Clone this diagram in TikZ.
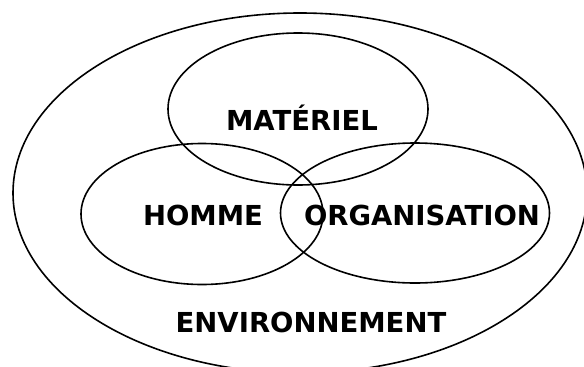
\documentclass[tikz,border=0pt]{standalone}
\usepackage{fontspec}
\setmainfont{DejaVu Sans}
\usetikzlibrary{shapes.geometric}
\begin{document}
\begin{tikzpicture}[x=1pt,y=-1pt,
  ring/.style={draw=black, line width=1.6pt, ellipse, inner sep=0pt},
  lbl/.style={font=\fontsize{27.5}{31}\selectfont\bfseries, inner sep=0pt, anchor=center}]
\useasboundingbox (0,0) rectangle (584,367);
\clip (0,0) rectangle (584,367);
\node[ring, minimum width=574pt, minimum height=360pt] (env) at (300,193) {};
\node[ring, minimum width=260pt, minimum height=152pt] (mat) at (298,109) {};
\node[ring, minimum width=242pt, minimum height=141pt] (hom) at (202,214) {};
\node[ring, minimum width=269pt, minimum height=140pt] (org) at (415,213) {};
\node[lbl] (tmat) at (302,118) {MATÉRIEL};
\node[lbl] (thom) at (203,215) {HOMME};
\node[lbl] (torg) at (422,215) {ORGANISATION};
\node[lbl] (tenv) at (311,322) {ENVIRONNEMENT};
\end{tikzpicture}
\end{document}
